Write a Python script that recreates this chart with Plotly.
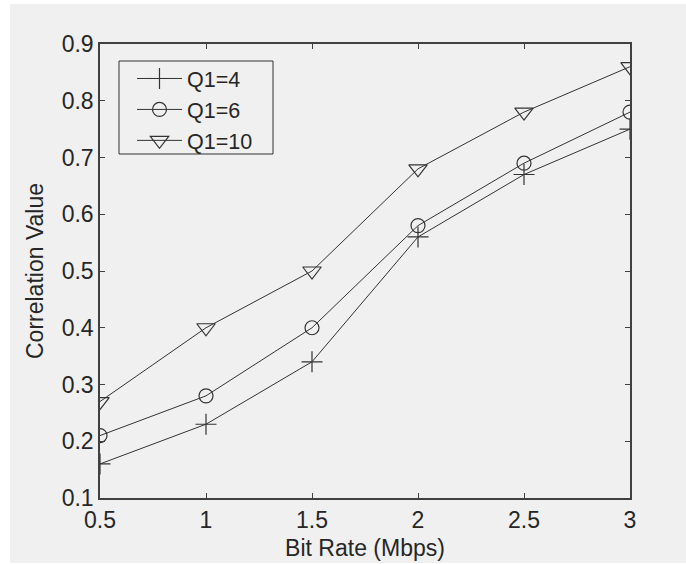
import plotly.graph_objects as go

bit_rate = [0.5, 1.0, 1.5, 2.0, 2.5, 3.0]
q1_4 = [0.16, 0.23, 0.34, 0.56, 0.67, 0.75]
q1_6 = [0.21, 0.28, 0.40, 0.58, 0.69, 0.78]
q1_10 = [0.27, 0.40, 0.50, 0.68, 0.78, 0.86]
series_names = ["Q1=4", "Q1=6", "Q1=10"]
x_ticks = [0.5, 1, 1.5, 2, 2.5, 3]
x_tick_labels = ["0.5", "1", "1.5", "2", "2.5", "3"]
y_ticks = [0.1, 0.2, 0.3, 0.4, 0.5, 0.6, 0.7, 0.8, 0.9]
y_tick_labels = ["0.1", "0.2", "0.3", "0.4", "0.5", "0.6", "0.7", "0.8", "0.9"]

INK = "#333333"
BG = "#f0f0f0"
FONT = "Liberation Sans, Arial, sans-serif"
PW, PH = 530, 454  # plot area size in px

fig = go.Figure()
styles = [("cross-thin-open", 15), ("circle-open", 14), ("triangle-down-open", 16)]
for name, ys, (sym, sz) in zip(series_names, [q1_4, q1_6, q1_10], styles):
    fig.add_trace(go.Scatter(
        x=bit_rate, y=ys, name=name, mode="lines+markers",
        line=dict(color=INK, width=1),
        marker=dict(symbol=sym, size=sz, color=INK, line=dict(color=INK, width=1.2)),
    ))

axis_common = dict(
    showline=True, linecolor="#404040", linewidth=1.5, mirror="ticks",
    ticks="inside", ticklen=5, tickcolor="#404040", tickwidth=1,
    showgrid=False, zeroline=False, automargin=False,
    tickfont=dict(family=FONT, size=23, color="#262626"),
    title_font=dict(family=FONT, size=23, color="#262626"),
)

fig.update_xaxes(range=[0.5, 3], tickvals=x_ticks, ticktext=x_tick_labels,
                 ticklabelstandoff=1,
                 title_text="Bit Rate (Mbps)", title_standoff=8, **axis_common)
fig.update_yaxes(range=[0.1, 0.9], tickvals=y_ticks, ticktext=y_tick_labels,
                 title_text="Correlation Value", title_standoff=12, **axis_common)

# figure background panel
fig.add_shape(type="rect", xref="paper", yref="paper",
              x0=-90/PW, x1=586/PW, y0=-65/PH, y1=1 + 40/PH,
              fillcolor=BG, line=dict(width=0), layer="below")
# legend frame
fig.add_shape(type="rect", xref="paper", yref="paper",
              x0=19/PW, x1=173/PW, y0=1 - 110/PH, y1=1 - 17/PH,
              fillcolor=BG, line=dict(color=INK, width=1), layer="below")

fig.update_layout(
    width=686, height=564,
    margin=dict(l=100, r=56, t=44, b=66),
    paper_bgcolor="white", plot_bgcolor=BG,
    showlegend=True,
    legend=dict(x=32/PW, y=1 - 14/PH, xanchor="left", yanchor="top",
                bgcolor="rgba(0,0,0,0)", borderwidth=0,
                font=dict(family=FONT, size=21.5, color="#262626"),
                tracegroupgap=0, itemwidth=45),
    font=dict(family=FONT, size=23, color="#262626"),
)

fig.write_html("out.html", config={"displayModeBar": False},
               post_script="document.body.style.margin='0';")
